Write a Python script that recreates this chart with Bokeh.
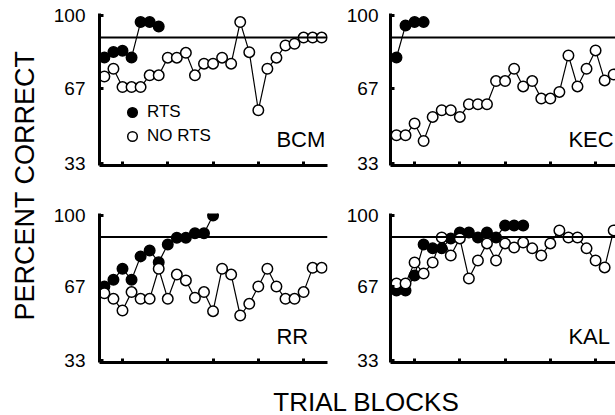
import math
from bokeh.plotting import figure
from bokeh.layouts import row, column
from bokeh.models import Range1d, FixedTicker, Span, Label, Legend, LegendItem
from bokeh.embed import file_html
from bokeh.resources import INLINE

FONT = "Liberation Sans"

# ---------------- data ----------------
CRITERION = 90
Y_TICKS = [33, 67, 100]
Y_TICK_LABELS = {33: "33", 67: "67", 100: "100"}
X_TICKS = [3, 8, 13, 18, 23]
Y_LABEL = "PERCENT CORRECT"
X_LABEL = "TRIAL BLOCKS"
SERIES_NAMES = ["RTS", "NO RTS"]

subjects = ["BCM", "KEC", "RR", "KAL"]

bcm_rts = [81, 83.5, 84, 81, 97, 97, 95]
bcm_no_rts = [72.4, 75.9, 67.6, 67.6, 67.6, 72.9, 72.9, 80.9, 80.9, 83.1,
              72.9, 78.2, 78.2, 80.9, 78.2, 97.0, 83.4, 57.1, 75.9, 80.9,
              86.4, 87.2, 90, 90, 90]

kec_rts = [81, 95.5, 97, 97]
kec_no_rts = [45.8, 45.8, 51.1, 43.2, 54.1, 57.1, 57.1, 54.1, 59.8, 59.8,
              59.8, 70.3, 70.3, 75.9, 67.9, 70.3, 62.4, 62.4, 65.4, 81.9,
              67.9, 75.9, 84.2, 70.6, 73.3]

rr_rts = [67.2, 70.3, 75.4, 70.3, 81.1, 83.8, 78.4, 86.6, 89.7, 89.7,
          91.8, 91.8, 100]
rr_no_rts = [64.1, 61.5, 56.1, 64.6, 61.5, 61.5, 75.4, 61.5, 72.7, 70.0,
             62.0, 64.6, 55.8, 75.4, 72.7, 53.8, 59.2, 67.2, 75.4, 67.2,
             61.5, 61.5, 64.6, 75.8, 75.8]

kal_rts = [65.3, 65.3, 72.3, 86.6, 84.8, 84.8, 89.4, 92.1, 92.1, 89.8,
           92.1, 89.8, 95.4, 95.4, 95.4]
kal_no_rts = [68.6, 68.6, 78.3, 73.2, 78.3, 89.8, 81.5, 89.4, 70.9, 79.2,
              87.1, 79.2, 87.1, 85.2, 87.5, 84.8, 81.5, 87.1, 93.1, 89.8,
              89.8, 84.8, 79.2, 76.0, 93.1]


def blocks(vals):
    return list(range(1, len(vals) + 1))


def panel(name, rts, no_rts, width, height, bl, br, bt, bb, xr, yr,
          standoff, legend=False):
    p = figure(width=width, height=height,
               x_range=Range1d(*xr), y_range=Range1d(*yr),
               min_border_left=bl, min_border_right=br,
               min_border_top=bt, min_border_bottom=bb,
               output_backend="svg", toolbar_location=None,
               background_fill_color="white", border_fill_color="white",
               outline_line_color=None)
    p.grid.visible = False

    p.xaxis.ticker = FixedTicker(ticks=X_TICKS)
    p.xaxis.major_label_overrides = {t: "" for t in X_TICKS}
    p.xaxis.major_label_text_color = None
    p.yaxis.ticker = FixedTicker(ticks=Y_TICKS)
    p.yaxis.major_label_overrides = Y_TICK_LABELS
    p.yaxis.major_label_text_font_size = "19px"
    p.yaxis.major_label_text_font = FONT
    p.yaxis.major_label_text_color = "black"
    p.yaxis.major_label_standoff = standoff
    for ax in (p.xaxis, p.yaxis):
        ax.axis_line_width = 3
        ax.axis_line_color = "black"
        ax.major_tick_line_width = 3
        ax.major_tick_line_color = "black"
        ax.major_tick_in = 4
        ax.major_tick_out = 0
        ax.minor_tick_line_color = None

    p.add_layout(Span(location=CRITERION, dimension="width",
                      line_color="black", line_width=2))

    p.line(blocks(rts), rts, line_color="black", line_width=1.2)
    r_f = p.scatter(blocks(rts), rts, marker="circle", size=10.5,
                    fill_color="black", line_color="black", line_width=1.5)
    p.line(blocks(no_rts), no_rts, line_color="black", line_width=1.2)
    r_o = p.scatter(blocks(no_rts), no_rts, marker="circle", size=10.5,
                    fill_color="white", line_color="black", line_width=1.5)

    p.add_layout(Label(x=20, y=44, text=name, text_font=FONT,
                       text_font_size="22px", text_color="black",
                       text_align="left", text_baseline="middle"))

    if legend:
        leg = Legend(items=[LegendItem(label=SERIES_NAMES[0], renderers=[r_f]),
                            LegendItem(label=SERIES_NAMES[1], renderers=[r_o])],
                     location=(21, 17), orientation="vertical",
                     glyph_width=24, glyph_height=24, label_height=24,
                     spacing=0, padding=0, margin=0, label_standoff=3,
                     label_text_font=FONT, label_text_font_size="17px",
                     label_text_color="black",
                     border_line_color=None, background_fill_alpha=0)
        p.add_layout(leg, "center")
    return p


YR = (32.1, 100.9)
XR_LEFT = (0.46, 25.64)
XR_RIGHT = (0.34, 25.2)

p_bcm = panel(subjects[0], bcm_rts, bcm_no_rts, 300, 200, 59, 13, 13, 35,
              XR_LEFT, YR, 14, legend=True)
p_kec = panel(subjects[1], kec_rts, kec_no_rts, 275, 200, 50, 0, 13, 35,
              XR_RIGHT, YR, 12)
p_rr = panel(subjects[2], rr_rts, rr_no_rts, 300, 180, 59, 13, 13, 18,
             XR_LEFT, YR, 14)
p_kal = panel(subjects[3], kal_rts, kal_no_rts, 275, 180, 50, 0, 13, 18,
              XR_RIGHT, YR, 12)


def strip(width, height):
    s = figure(width=width, height=height, x_range=Range1d(0, 1),
               y_range=Range1d(0, 1), min_border=0,
               x_axis_location=None, y_axis_location=None,
               outline_line_color=None, output_backend="svg",
               toolbar_location=None, background_fill_color="white",
               border_fill_color="white")
    s.grid.visible = False
    return s


left = strip(40, 415)
left.add_layout(Label(x=0.6, y=0.554, text=Y_LABEL, angle=math.pi / 2,
                      text_font=FONT, text_font_size="27px",
                      text_color="black", text_align="center",
                      text_baseline="middle"))

bottom = strip(575, 35)
bottom.add_layout(Label(x=0.567, y=0.4, text=X_LABEL, text_font=FONT,
                        text_font_size="26px", text_color="black",
                        text_align="center", text_baseline="middle"))

layout = row(left, column(row(p_bcm, p_kec), row(p_rr, p_kal), bottom))

open("out.html", "w").write(file_html(layout, INLINE))
